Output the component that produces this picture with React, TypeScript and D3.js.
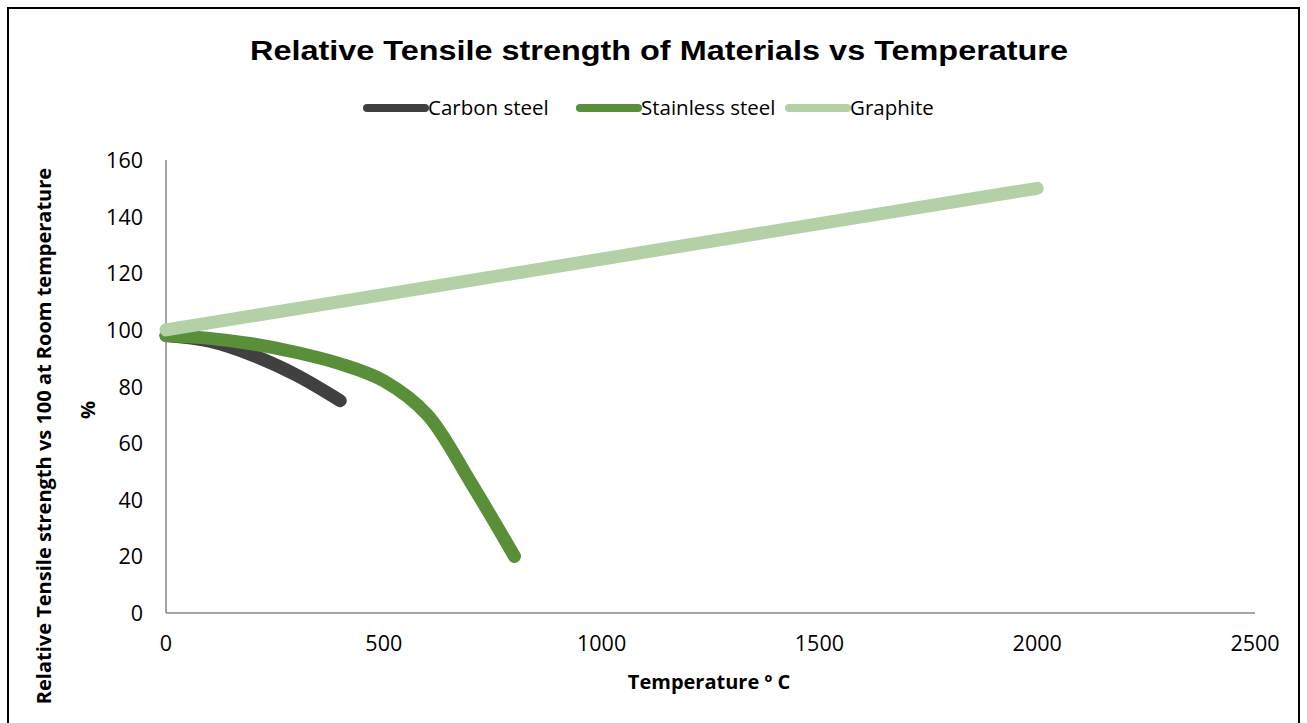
import * as d3 from "d3";

const carbonTemps = [0, 100, 200, 300, 400];
const carbonValues = [98, 96, 91, 84, 75];
const stainlessTemps = [0, 100, 200, 300, 400, 500, 600, 700, 800];
const stainlessValues = [98, 97, 95, 92, 88, 82, 70, 46, 20];
const graphiteTemps = [0, 2000];
const graphiteValues = [100, 150];

const xTicks = [0, 500, 1000, 1500, 2000, 2500];
const yTicks = [0, 20, 40, 60, 80, 100, 120, 140, 160];

const seriesNames = ["Carbon steel", "Stainless steel", "Graphite"];
const seriesColors = ["#404040", "#5a8f3a", "#b3d0a6"];

const font = "'Open Sans', sans-serif";

export default function App() {
  const width = 1307;
  const height = 723;
  const x = d3.scaleLinear().domain([0, 2500]).range([166, 1255]);
  const y = d3.scaleLinear().domain([0, 160]).range([613, 160]);

  const line = d3
    .line<[number, number]>()
    .x(d => x(d[0]))
    .y(d => y(d[1]))
    .curve(d3.curveCatmullRom);

  const series = [
    d3.zip(carbonTemps, carbonValues) as [number, number][],
    d3.zip(stainlessTemps, stainlessValues) as [number, number][],
    d3.zip(graphiteTemps, graphiteValues) as [number, number][],
  ];

  // legend layout: line start for each entry
  const legendX = [367, 580, 789];
  const legendY = 108;

  return (
    <svg
      width={width}
      height={height}
      style={{ position: "absolute", left: 0, top: 0, background: "#fff" }}
    >
      <rect x={8} y={8} width={1291} height={730} fill="#fff" stroke="#000" strokeWidth={2} />

      <text
        x={659}
        y={60}
        textAnchor="middle"
        fontFamily="'Liberation Sans', Arial, sans-serif"
        fontWeight={700}
        fontSize={27}
        textLength={818}
        lengthAdjust="spacingAndGlyphs"
        fill="#000"
      >
        Relative Tensile strength of Materials vs Temperature
      </text>

      {seriesNames.map((name, i) => (
        <g key={name}>
          <line
            x1={legendX[i]}
            x2={legendX[i] + 58}
            y1={legendY}
            y2={legendY}
            stroke={seriesColors[i]}
            strokeWidth={8}
            strokeLinecap="round"
          />
          <text
            x={legendX[i] + 61}
            y={legendY + 7}
            fontFamily={font}
            fontSize={20.5}
            fill="#000"
          >
            {name}
          </text>
        </g>
      ))}

      <line x1={x(0)} x2={x(0)} y1={y(160)} y2={y(0)} stroke="#868686" strokeWidth={1.5} />
      <line x1={x(0)} x2={x(2500)} y1={y(0)} y2={y(0)} stroke="#868686" strokeWidth={1.5} />

      {yTicks.map(t => (
        <text
          key={"y" + t}
          x={143}
          y={y(t) + 8}
          textAnchor="end"
          fontFamily={font}
          fontSize={21.5}
          fill="#000"
        >
          {t}
        </text>
      ))}
      {xTicks.map(t => (
        <text
          key={"x" + t}
          x={x(t)}
          y={651}
          textAnchor="middle"
          fontFamily={font}
          fontSize={21.5}
          fill="#000"
        >
          {t}
        </text>
      ))}

      {[0, 1, 2].map(i => (
        <path
          key={"s" + i}
          d={line(series[i]) ?? ""}
          fill="none"
          stroke={seriesColors[i]}
          strokeWidth={13}
          strokeLinecap="round"
          strokeLinejoin="round"
        />
      ))}

      <text
        x={709}
        y={689}
        textAnchor="middle"
        fontFamily={font}
        fontWeight={700}
        fontSize={20}
        fill="#000"
      >
        Temperature º C
      </text>

      <text
        transform="translate(51,436) rotate(-90)"
        textAnchor="middle"
        fontFamily={font}
        fontWeight={700}
        fontSize={20}
        fill="#000"
      >
        Relative Tensile strength vs 100 at Room temperature
      </text>
      <text
        transform="translate(95,410) rotate(-90)"
        textAnchor="middle"
        fontFamily={font}
        fontWeight={700}
        fontSize={20}
        fill="#000"
      >
        %
      </text>
    </svg>
  );
}
